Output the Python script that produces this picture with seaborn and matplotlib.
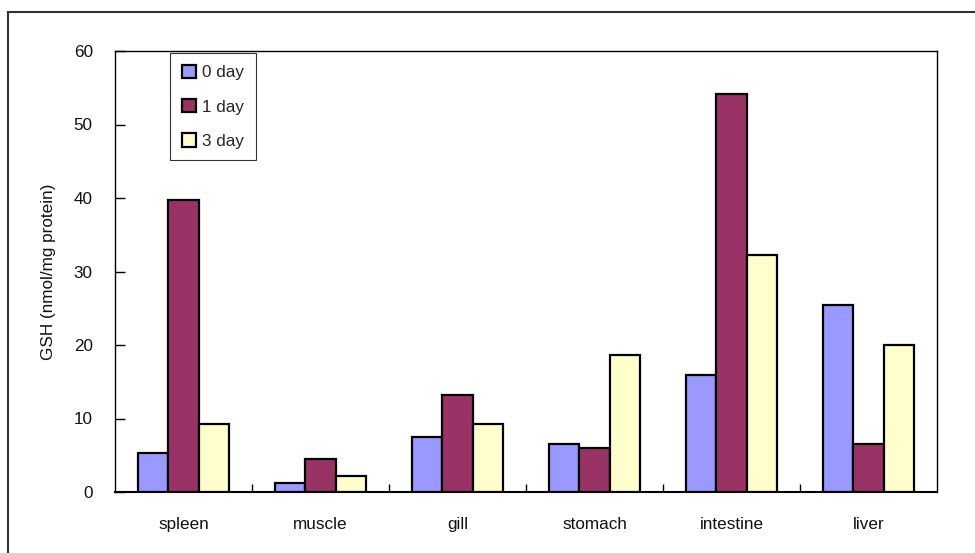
import matplotlib
matplotlib.use("Agg")
import matplotlib.pyplot as plt
from matplotlib.patches import Rectangle, Patch
import numpy as np
import pandas as pd
import seaborn as sns

tissues = ["spleen", "muscle", "gill", "stomach", "intestine", "liver"]
days = ["0 day", "1 day", "3 day"]
day0 = [5.3, 1.2, 7.5, 6.5, 15.9, 25.4]
day1 = [39.7, 4.5, 13.2, 6.0, 54.1, 6.5]
day3 = [9.2, 2.2, 9.2, 18.7, 32.3, 20.0]
colors = ["#9999FF", "#993366", "#FFFFCC"]

df = pd.DataFrame({
    "tissue": tissues * 3,
    "day": [days[0]] * 6 + [days[1]] * 6 + [days[2]] * 6,
    "GSH": day0 + day1 + day3,
})

FS = 12.3

sns.set_theme(style="white")
plt.rcParams["font.family"] = ["Liberation Sans", "DejaVu Sans"]
plt.rcParams["font.size"] = FS

fig = plt.figure(figsize=(9.75, 5.53), dpi=100)
ax = fig.add_axes([115 / 975, 1 - 492 / 553, 822 / 975, 441 / 553])

# outer chart frame
fig.patches.append(Rectangle((8 / 975, -0.2), 1.5, 1.2 - 12 / 553,
                             transform=fig.transFigure, fill=False,
                             edgecolor="#333333", linewidth=1.5, zorder=0))

sns.barplot(data=df, x="tissue", y="GSH", hue="day", order=tissues,
            hue_order=days, palette=dict(zip(days, colors)), width=0.67,
            gap=0, edgecolor="black", linewidth=1.6, saturation=1,
            legend=False, ax=ax, zorder=3)

ax.set_ylim(0, 60)
ax.set_xlim(-0.5, len(tissues) - 0.5)
ax.set_yticks(np.arange(0, 61, 10))
ax.set_xticks(np.arange(len(tissues)))
ax.set_xticklabels(tissues)
ax.set_xticks(np.arange(0.5, len(tissues) - 0.5, 1), minor=True)
ax.tick_params(axis="y", direction="in", length=7, width=1, color="black",
               pad=16, labelsize=FS, left=True, labelcolor="#111111")
ax.tick_params(axis="x", which="major", length=0, pad=18, labelsize=FS,
               labelcolor="#111111")
ax.tick_params(axis="x", which="minor", direction="in", length=6, width=1,
               color="black", bottom=True)
ax.set_xlabel("")
ax.set_ylabel("GSH (nmol/mg protein)", fontsize=FS, labelpad=13,
              color="#111111")

for side in ["left", "bottom", "top", "right"]:
    ax.spines[side].set_visible(True)
    ax.spines[side].set_color("black")
    ax.spines[side].set_linewidth(1.0)
ax.spines["bottom"].set_linewidth(1.5)

handles = [Patch(facecolor=c, edgecolor="black", linewidth=1.6) for c in colors]
leg = ax.legend(handles, days, loc="upper left",
                bbox_to_anchor=(55 / 822, 1 - 2 / 441), borderaxespad=0,
                frameon=True, fancybox=False, edgecolor="black",
                handlelength=0.85, handleheight=0.85, handletextpad=0.35,
                labelspacing=1.08, borderpad=0.68, fontsize=FS)
leg.get_frame().set_linewidth(0.8)

fig.savefig("out.png", dpi=100, facecolor="white")
